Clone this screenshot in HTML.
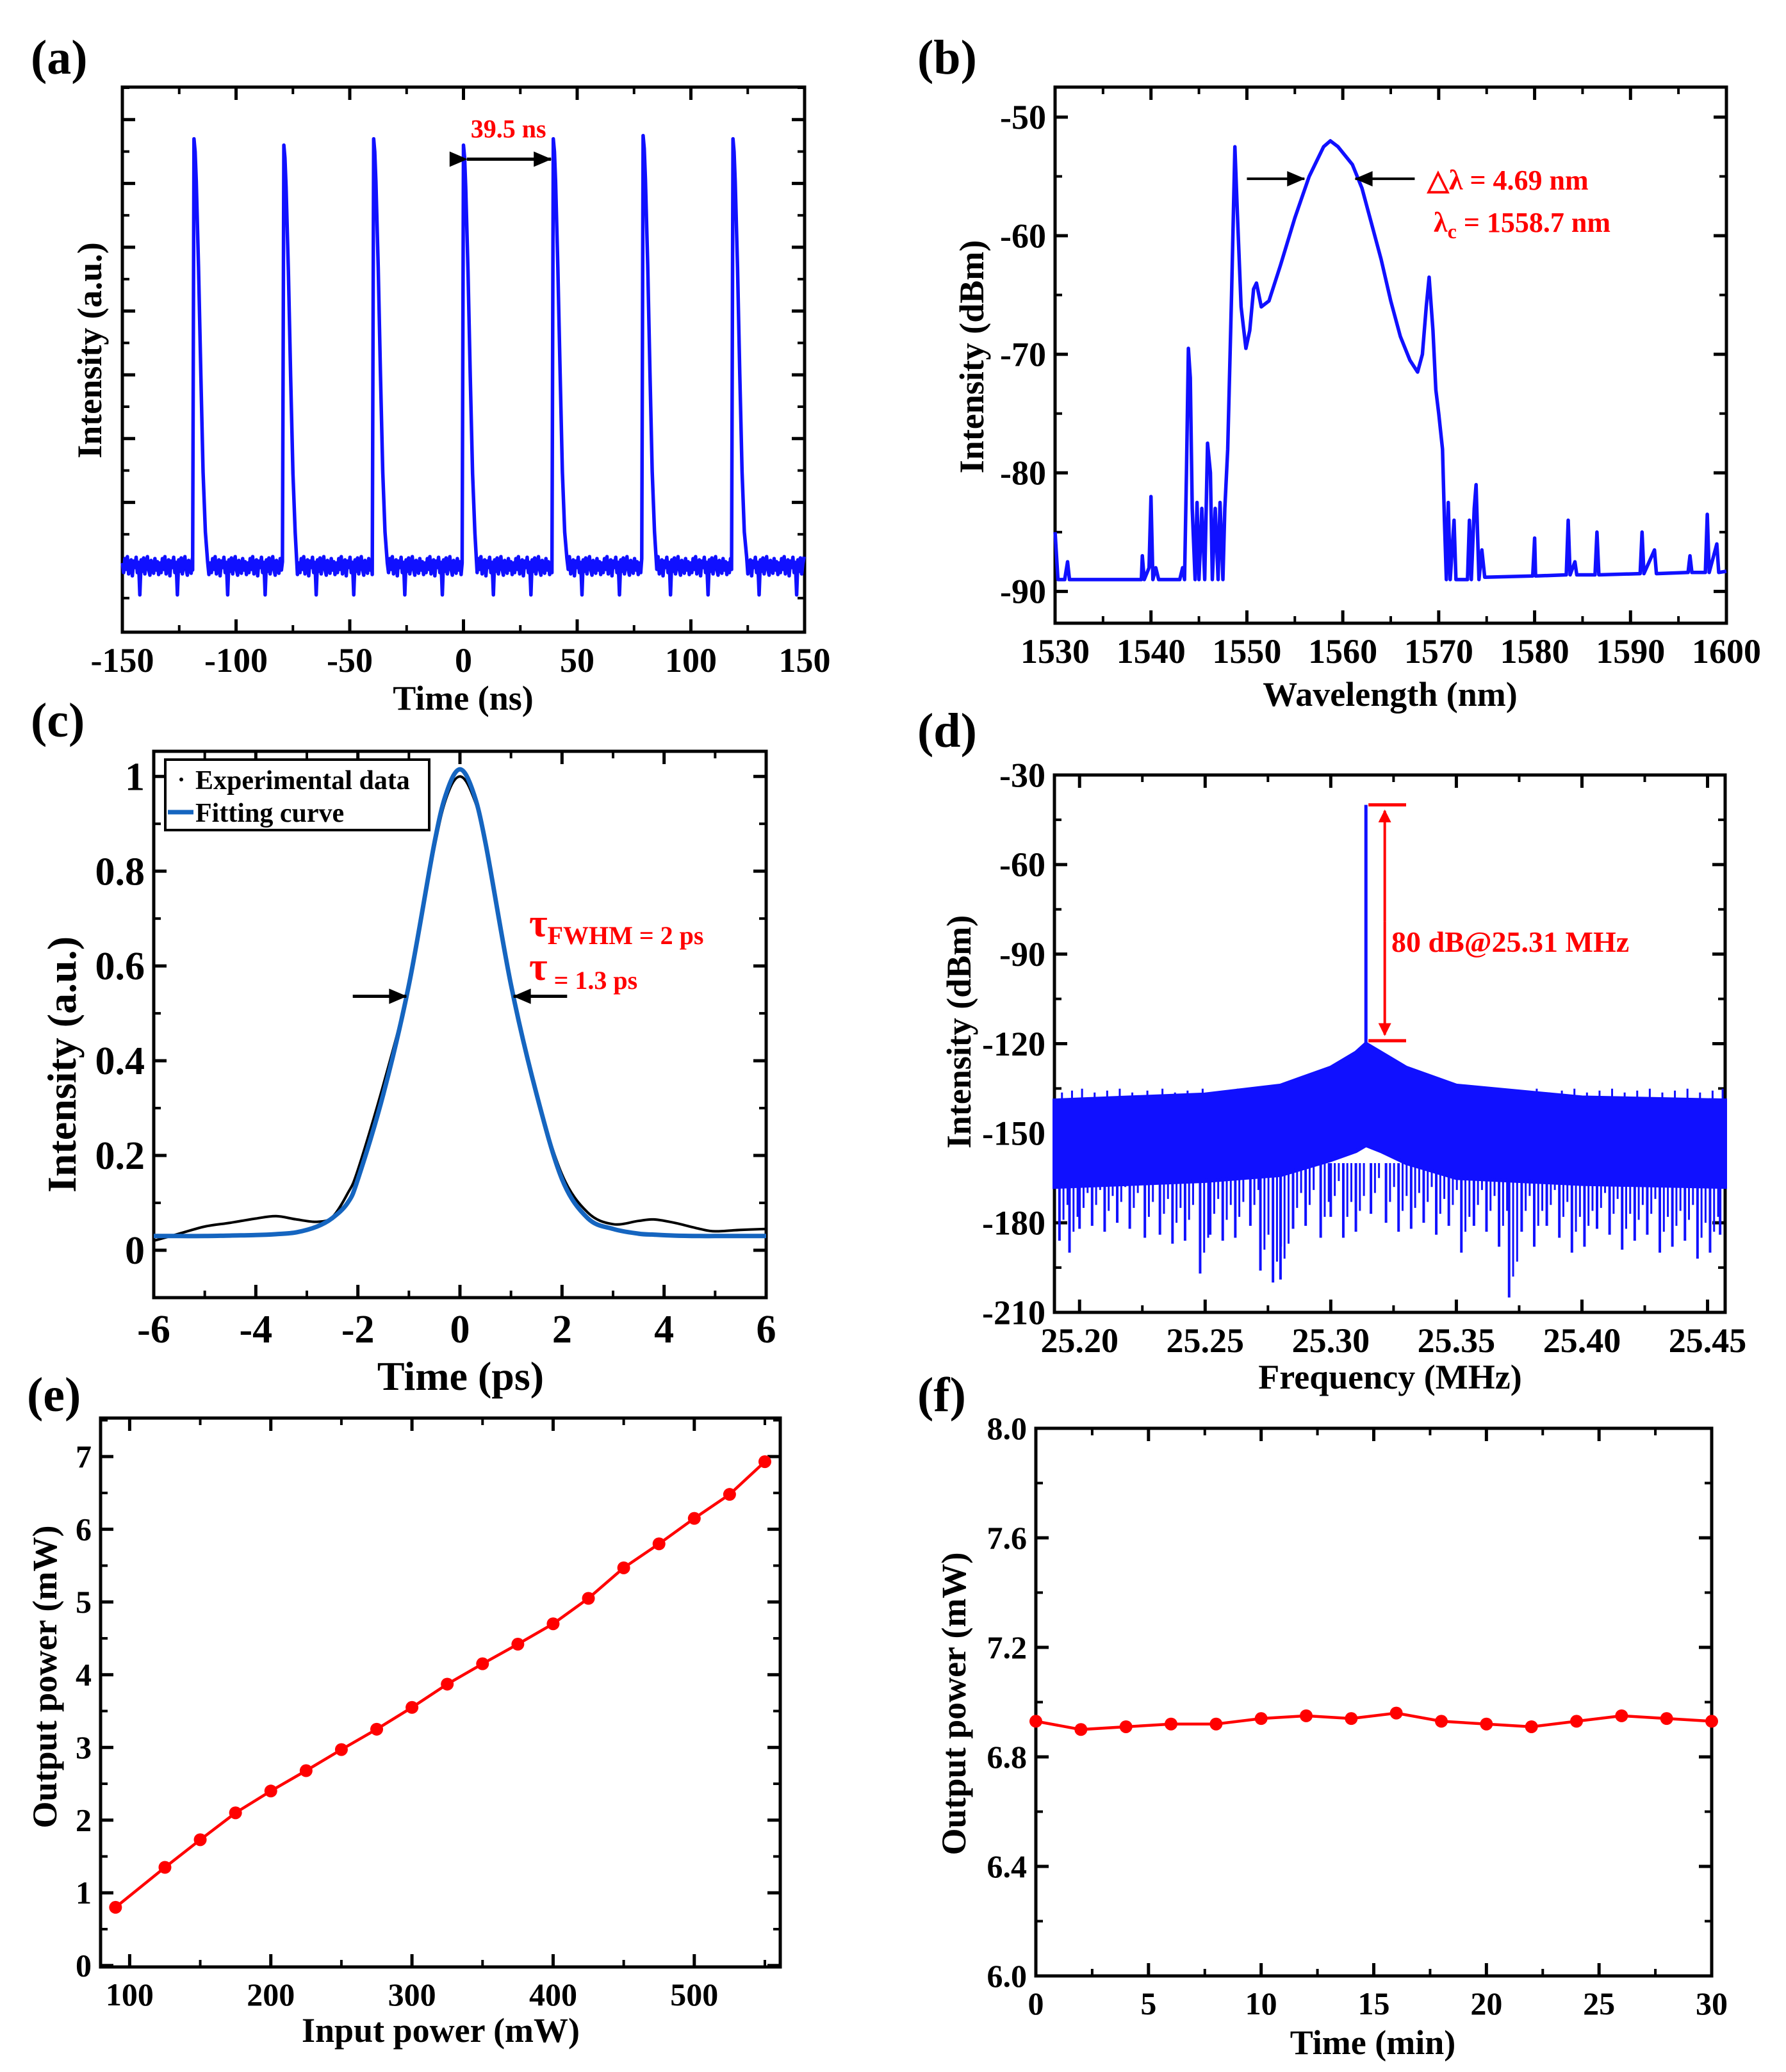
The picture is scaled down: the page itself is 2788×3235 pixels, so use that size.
<!DOCTYPE html>
<html><head><meta charset="utf-8"><style>
html,body{margin:0;padding:0;background:#fff}
svg{display:block}
text{font-family:"Liberation Serif",serif;font-weight:bold}
</style></head><body>
<svg id="fig" width="2788" height="3235" viewBox="0 0 2788 3235" xmlns="http://www.w3.org/2000/svg">
<defs>
<marker id="ahB" markerWidth="6" markerHeight="6" refX="5" refY="3" orient="auto" markerUnits="userSpaceOnUse" viewBox="0 0 6 6" style="overflow:visible"><path d="M-22,-9 L6,3 L-22,15 z" fill="#000"/></marker>
<marker id="ahR" markerWidth="5" markerHeight="5" refX="4.5" refY="2.5" orient="auto" markerUnits="strokeWidth"><path d="M0,0 L5,2.5 L0,5 z" fill="#f00"/></marker>
</defs>
</svg>
<script>
// ---------- DATA ----------
// (a) pulse train
const pulseTimes=[-118.5,-79,-39.5,0,39.5,79,118.5];
const pulseHeights=[6.7,6.6,6.7,6.6,6.7,6.75,6.7];
const pulseShapeT=[-0.6,0,0.5,1,2,3,4,5,6];
const pulseShapeV=[0,1,0.97,0.9,0.7,0.45,0.22,0.08,0];
const noiseA=[0.05,-0.1,0.12,-0.05,0.15,-0.12,0.02,0.1,-0.15,0.08,-0.02,0.14,-0.1,0.06,-0.45,0.1,-0.08,0.13,-0.12,0.04,0.15,-0.05,-0.14,0.09,0.0,-0.11,0.12,-0.06,0.07,-0.13];
// (b) optical spectrum
const specWl=[1530,1530.3,1531,1531.3,1531.5,1539,1539.1,1539.3,1539.8,1540,1540.2,1540.5,1540.8,1543,1543.3,1543.5,1543.7,1543.9,1544.1,1544.3,1544.6,1544.8,1545,1545.3,1545.6,1545.9,1546.2,1546.4,1546.7,1547,1547.2,1547.5,1547.7,1548,1548.4,1548.75,1549,1549.4,1549.9,1550.3,1550.7,1551,1551.5,1552.3,1553.5,1555,1556.5,1558,1558.7,1559.5,1561,1562,1563,1564,1565,1566,1567,1567.8,1568.3,1568.7,1569,1569.4,1569.7,1570,1570.4,1570.6,1570.8,1571,1571.2,1571.6,1571.8,1573,1573.2,1573.4,1573.7,1573.9,1574.2,1574.5,1574.8,1579.8,1580,1580.1,1583.3,1583.5,1583.7,1584.2,1584.4,1586.3,1586.5,1586.7,1591,1591.2,1591.4,1592.5,1592.7,1596,1596.2,1596.4,1597.8,1598,1598.2,1599,1599.2,1600];
const specDb=[-85,-89,-89,-87.5,-89,-89,-87,-89,-88,-82,-89,-88,-89,-89,-88,-89,-80,-69.5,-72,-83,-89,-82.5,-89,-83,-89,-77.5,-80,-89,-83,-89,-82.5,-89,-83,-78,-65,-52.5,-58,-66,-69.5,-68,-64.5,-64,-66,-65.5,-62.5,-58.5,-55,-52.5,-52,-52.5,-54,-56,-59,-62,-65.5,-68.5,-70.5,-71.5,-70,-66,-63.5,-68,-73,-75,-78,-84,-89,-82.5,-89,-84,-89,-89,-84,-89,-83,-81,-89,-86.5,-88.8,-88.7,-85.5,-88.7,-88.6,-84,-88.6,-87.5,-88.6,-88.6,-85,-88.6,-88.5,-85,-88.5,-86.5,-88.5,-88.4,-87,-88.4,-88.4,-83.5,-88.4,-86,-88.4,-88.3];
// (c) autocorrelation
const acT=[-6,-5.5,-5,-4.5,-4,-3.6,-3.2,-2.8,-2.5,-2.2,-2,-1.5,-1,-0.5,-0.25,0,0.25,0.5,1,1.5,2,2.5,3,3.5,3.8,4.2,4.7,5,5.5,6];
const acExp=[0.02,0.035,0.05,0.058,0.067,0.072,0.065,0.06,0.07,0.12,0.17,0.35,0.56,0.85,0.96,1.0,0.96,0.86,0.56,0.33,0.16,0.08,0.055,0.062,0.065,0.058,0.045,0.04,0.043,0.045];
const acFit=[0.03,0.03,0.03,0.031,0.032,0.034,0.038,0.05,0.068,0.1,0.15,0.33,0.56,0.86,0.97,1.015,0.97,0.86,0.56,0.33,0.15,0.068,0.045,0.035,0.033,0.031,0.03,0.03,0.03,0.03];
// (d) RF spectrum
const rfEnvF=[25.19,25.25,25.28,25.30,25.31,25.314,25.32,25.33,25.35,25.40,25.457];
const rfTop=[-139,-137,-134,-128,-123,-120,-123,-128,-134,-138,-139];
const rfBot=[-168,-166,-164,-159,-156,-154,-156,-160,-165,-167,-168];
const rfSpikeF=[25.192,25.196,25.2,25.205,25.21,25.215,25.22,25.226,25.232,25.237,25.242,25.248,25.252,25.257,25.262,25.268,25.272,25.277,25.28,25.285,25.29,25.296,25.3,25.305,25.31,25.316,25.322,25.327,25.332,25.337,25.342,25.347,25.352,25.357,25.362,25.367,25.371,25.376,25.381,25.386,25.391,25.396,25.401,25.406,25.411,25.416,25.421,25.426,25.431,25.436,25.441,25.446,25.451,25.455];
const rfSpikeV=[-186,-190,-182,-181,-183,-180,-182,-185,-184,-187,-186,-197,-184,-186,-185,-181,-196,-200,-199,-182,-181,-185,-178,-185,-183,-177,-180,-183,-182,-180,-184,-181,-190,-181,-183,-188,-205,-183,-188,-181,-185,-190,-188,-182,-184,-189,-186,-184,-190,-188,-186,-192,-190,-184];
// (e) output vs input power
const inPow=[90,125,150,175,200,225,250,275,300,325,350,375,400,425,450,475,500,525,550];
const outPowE=[0.8,1.35,1.73,2.1,2.4,2.68,2.97,3.25,3.55,3.87,4.15,4.42,4.7,5.05,5.47,5.8,6.15,6.48,6.93];
// (f) stability
const timeMin=[0,2,4,6,8,10,12,14,16,18,20,22,24,26,28,30];
const outPowF=[6.93,6.90,6.91,6.92,6.92,6.94,6.95,6.94,6.96,6.93,6.92,6.91,6.93,6.95,6.94,6.93];

// ---------- HELPERS ----------
const svg=document.getElementById('fig');
const NS='http://www.w3.org/2000/svg';
function mk(tag,attrs,parent){const e=document.createElementNS(NS,tag);for(const k in attrs)e.setAttribute(k,attrs[k]);(parent||svg).appendChild(e);return e;}
function txt(s,attrs,parent){const e=mk('text',attrs,parent);e.textContent=s;return e;}
function panel(p){
  const g=mk('g',{});
  
  
  p.g=g;
  p.sx=v=>p.x0+(v-p.xmin)/(p.xmax-p.xmin)*(p.x1-p.x0);
  p.sy=v=>p.y1-(v-p.ymin)/(p.ymax-p.ymin)*(p.y1-p.y0);
  const ax=mk('g',{},g);
  
  
  p.ax=ax;
  return p;
}
function drawFrame(p){
  const ax=p.ax;
  const fr=mk('rect',{x:p.x0,y:p.y0,width:p.x1-p.x0,height:p.y1-p.y0,fill:'none',stroke:'#000','stroke-width':5},ax);
  
  
  const L=20,Lm=11;
  for(const t of p.xMinor){const X=p.sx(t);if(X<p.x0-1||X>p.x1+1)continue;
    mk('line',{x1:X,x2:X,y1:p.y1,y2:p.y1-Lm,stroke:'#000','stroke-width':4},ax);
    mk('line',{x1:X,x2:X,y1:p.y0,y2:p.y0+Lm,stroke:'#000','stroke-width':4},ax);}
  for(const t of p.yMinor){const Y=p.sy(t);if(Y<p.y0-1||Y>p.y1+1)continue;
    mk('line',{y1:Y,y2:Y,x1:p.x0,x2:p.x0+Lm,stroke:'#000','stroke-width':4},ax);
    mk('line',{y1:Y,y2:Y,x1:p.x1,x2:p.x1-Lm,stroke:'#000','stroke-width':4},ax);}
  p.xTicks.forEach((t,i)=>{const X=p.sx(t);
    mk('line',{x1:X,x2:X,y1:p.y1,y2:p.y1-L,stroke:'#000','stroke-width':5},ax);
    mk('line',{x1:X,x2:X,y1:p.y0,y2:p.y0+L,stroke:'#000','stroke-width':5},ax);
    if(p.xLabels){const t2=txt(p.xLabels[i],{x:X,y:p.y1+p.xlOff,'font-size':p.fs,'text-anchor':'middle'},ax);
      
      }
  });
  p.yTicks.forEach((t,i)=>{const Y=p.sy(t);
    mk('line',{y1:Y,y2:Y,x1:p.x0,x2:p.x0+L,stroke:'#000','stroke-width':5},ax);
    mk('line',{y1:Y,y2:Y,x1:p.x1,x2:p.x1-L,stroke:'#000','stroke-width':5},ax);
    if(p.yLabels){const t2=txt(p.yLabels[i],{x:p.x0-14,y:Y+p.fs*0.34,'font-size':p.fs,'text-anchor':'end'},ax);
      
      }
  });
  const xt=txt(p.xTitle,{x:p.xtX,y:p.xtY,'font-size':p.tfs,'text-anchor':'middle'},ax);
  
  
  const yt=txt(p.yTitle,{x:0,y:0,'font-size':p.tfs,'text-anchor':'middle',transform:`translate(${p.ytX},${p.ytY}) rotate(-90)`},ax);
  
  
  const pl=txt(p.label,{x:p.lX,y:p.lY,'font-size':76},ax);
  
  
}
function range(a,b,s){const r=[];for(let v=a;v<=b+1e-9;v+=s)r.push(+v.toFixed(6));return r;}
function poly(p,xs,ys,attrs){const d=xs.map((x,i)=>`${i?'L':'M'}${p.sx(x).toFixed(1)},${p.sy(ys[i]).toFixed(1)}`).join('');return mk('path',Object.assign({d:d,fill:'none'},attrs),p.g);}
function smooth(p,xs,ys,attrs){
  const P=xs.map((x,i)=>[p.sx(x),p.sy(ys[i])]);
  let d=`M${P[0][0].toFixed(1)},${P[0][1].toFixed(1)}`;
  for(let i=0;i<P.length-1;i++){
    const p0=P[Math.max(0,i-1)],p1=P[i],p2=P[i+1],p3=P[Math.min(P.length-1,i+2)];
    const c1=[p1[0]+(p2[0]-p0[0])/6,p1[1]+(p2[1]-p0[1])/6],c2=[p2[0]-(p3[0]-p1[0])/6,p2[1]-(p3[1]-p1[1])/6];
    d+=`C${c1[0].toFixed(1)},${c1[1].toFixed(1)} ${c2[0].toFixed(1)},${c2[1].toFixed(1)} ${p2[0].toFixed(1)},${p2[1].toFixed(1)}`;
  }
  return mk('path',Object.assign({d:d,fill:'none'},attrs),p.g);
}

// ---------- (a) ----------
const A=panel({name:'panel-a-pulse-train',x0:191,x1:1256,y0:136,y1:987,xmin:-150,xmax:150,ymin:-1.034,ymax:7.51,
  xTicks:range(-150,150,50),xLabels:['-150','-100','-50','0','50','100','150'],xMinor:range(-150,150,25),
  yTicks:range(0,7,1),yLabels:null,yMinor:range(-0.5,7.5,0.5),fs:54,xlOff:62,tfs:54,
  xTitle:'Time (ns)',xtX:723,xtY:1108,yTitle:'Intensity (a.u.)',ytX:158,ytY:547,label:'(a)',lX:48,lY:115});
(function(){
  const xs=[],ys=[];let k=0;
  const events=[];
  pulseTimes.forEach((t0,i)=>events.push([t0,pulseHeights[i]]));
  let t=-150;
  for(const [t0,h] of events){
    while(t<t0+pulseShapeT[0]){xs.push(t);ys.push(noiseA[k++%noiseA.length]);t+=0.55;}
    pulseShapeT.forEach((dt,j)=>{xs.push(t0+dt);ys.push(pulseShapeV[j]*h+(j==0||j==pulseShapeT.length-1?noiseA[k++%noiseA.length]:0));});
    t=t0+pulseShapeT[pulseShapeT.length-1]+0.55;
  }
  while(t<=150){xs.push(t);ys.push(noiseA[k++%noiseA.length]);t+=0.55;}
  const l=poly(A,xs,ys,{stroke:'#1010ff','stroke-width':5.5,'stroke-linejoin':'round'});
  
  
  const ar=mk('line',{x1:A.sx(1.5),x2:A.sx(38.5),y1:A.sy(6.38),y2:A.sy(6.38),stroke:'#000','stroke-width':5,'marker-end':'url(#ahB)','marker-start':'url(#ahB)'},A.g);
  
  
  const at=txt('39.5 ns',{x:A.sx(19.75),y:A.sy(6.72),'font-size':40,fill:'#f00','text-anchor':'middle'},A.g);
  
  
})();
drawFrame(A);

// ---------- (b) ----------
const B=panel({name:'panel-b-optical-spectrum',x0:1647,x1:2695,y0:136,y1:973,xmin:1530,xmax:1600,ymin:-92.68,ymax:-47.47,
  xTicks:range(1530,1600,10),xLabels:['1530','1540','1550','1560','1570','1580','1590','1600'],xMinor:range(1530,1600,5),
  yTicks:[-90,-80,-70,-60,-50],yLabels:['-90','-80','-70','-60','-50'],yMinor:range(-90,-50,5),fs:54,xlOff:62,tfs:54,
  xTitle:'Wavelength (nm)',xtX:2170,xtY:1102,yTitle:'Intensity (dBm)',ytX:1535,ytY:557,label:'(b)',lX:1432,lY:115});
(function(){
  const l=poly(B,specWl,specDb,{stroke:'#1010ff','stroke-width':5.5,'stroke-linejoin':'round'});
  
  
  const a1=mk('line',{x1:B.sx(1550),x2:B.sx(1556),y1:B.sy(-55.2),y2:B.sy(-55.2),stroke:'#000','stroke-width':4,'marker-end':'url(#ahB)'},B.g);
  
  
  const a2=mk('line',{x1:B.sx(1567.5),x2:B.sx(1561.3),y1:B.sy(-55.2),y2:B.sy(-55.2),stroke:'#000','stroke-width':4,'marker-end':'url(#ahB)'},B.g);
  
  
  const t1=txt('△λ = 4.69 nm',{x:2228,y:296,'font-size':44,fill:'#f00'},B.g);
  
  
  const t2=mk('text',{x:2238,y:362,'font-size':44,fill:'#f00'},B.g);
  t2.innerHTML='λ<tspan font-size="32" dy="10">c</tspan><tspan dy="-10"> = 1558.7 nm</tspan>';
  
  
})();
drawFrame(B);

// ---------- (c) ----------
const C=panel({name:'panel-c-autocorrelation',x0:240,x1:1196,y0:1173,y1:2026,xmin:-6,xmax:6,ymin:-0.1,ymax:1.053,
  xTicks:range(-6,6,2),xLabels:['-6','-4','-2','0','2','4','6'],xMinor:range(-6,6,1),
  yTicks:range(0,1,0.2),yLabels:['0','0.2','0.4','0.6','0.8','1'],yMinor:range(0,1,0.1),fs:62,xlOff:70,tfs:64,
  xTitle:'Time (ps)',xtX:719,xtY:2170,yTitle:'Intensity (a.u.)',ytX:118,ytY:1662,label:'(c)',lX:48,lY:1150});
(function(){
  const e=smooth(C,acT,acExp,{stroke:'#000','stroke-width':4,'stroke-linejoin':'round'});
  
  
  const f=smooth(C,acT,acFit,{stroke:'#1565c0','stroke-width':7,'stroke-linejoin':'round'});
  
  
  const lg=mk('g',{},C.g);
  
  
  mk('rect',{x:258,y:1186,width:412,height:110,fill:'#fff',stroke:'#000','stroke-width':4},lg);
  mk('circle',{cx:283,cy:1217,r:3,fill:'#000'},lg);
  const l1=txt('Experimental data',{x:305,y:1232,'font-size':42},lg);
  
  
  mk('line',{x1:262,x2:302,y1:1268,y2:1268,stroke:'#1565c0','stroke-width':7},lg);
  const l2=txt('Fitting curve',{x:305,y:1283,'font-size':42},lg);
  
  
  const a1=mk('line',{x1:C.sx(-2.1),x2:C.sx(-1.05),y1:C.sy(0.536),y2:C.sy(0.536),stroke:'#000','stroke-width':5,'marker-end':'url(#ahB)'},C.g);
  
  
  const a2=mk('line',{x1:C.sx(2.1),x2:C.sx(1.05),y1:C.sy(0.536),y2:C.sy(0.536),stroke:'#000','stroke-width':5,'marker-end':'url(#ahB)'},C.g);
  
  
  const t1=mk('text',{x:826,y:1462,'font-size':62,fill:'#f00'},C.g);
  t1.innerHTML='τ<tspan font-size="40" dy="12">FWHM = 2 ps</tspan>';
  
  
  const t2=mk('text',{x:826,y:1530,'font-size':62,fill:'#f00'},C.g);
  t2.innerHTML='τ<tspan font-size="40" dy="14"> = 1.3 ps</tspan>';
  
  
})();
drawFrame(C);

// ---------- (d) ----------
const D=panel({name:'panel-d-rf-spectrum',x0:1646,x1:2693,y0:1210,y1:2049,xmin:25.19,xmax:25.457,ymin:-210,ymax:-30,
  xTicks:range(25.2,25.45,0.05),xLabels:['25.20','25.25','25.30','25.35','25.40','25.45'],xMinor:range(25.2,25.45,0.025),
  yTicks:range(-210,-30,30),yLabels:['-210','-180','-150','-120','-90','-60','-30'],yMinor:range(-210,-30,15),fs:54,xlOff:62,tfs:54,
  xTitle:'Frequency (MHz)',xtX:2170,xtY:2168,yTitle:'Intensity (dBm)',ytX:1515,ytY:1611,label:'(d)',lX:1432,lY:1166});
(function(){
  const g=mk('g',{},D.g);
  
  
  let d='';
  rfEnvF.forEach((f,i)=>{d+=`${i?'L':'M'}${D.sx(f).toFixed(1)},${D.sy(rfTop[i]).toFixed(1)}`;});
  for(let i=rfEnvF.length-1;i>=0;i--)d+=`L${D.sx(rfEnvF[i]).toFixed(1)},${D.sy(rfBot[i]).toFixed(1)}`;
  mk('path',{d:d+'Z',fill:'#1010ff',stroke:'#1010ff','stroke-width':6},g);
  const inside=f=>f<=D.xmax-0.0008;
  rfSpikeF.forEach((f,i)=>{
    if(inside(f))mk('line',{x1:D.sx(f),x2:D.sx(f),y1:D.sy(-160),y2:D.sy(rfSpikeV[i]),stroke:'#1010ff','stroke-width':4},g);
    if(inside(f+0.0016))mk('line',{x1:D.sx(f+0.0016),x2:D.sx(f+0.0016),y1:D.sy(-160),y2:D.sy(rfSpikeV[i]+7),stroke:'#1010ff','stroke-width':3},g);
    if(inside(f+0.0032))mk('line',{x1:D.sx(f+0.0032),x2:D.sx(f+0.0032),y1:D.sy(-160),y2:D.sy(rfSpikeV[i]+12),stroke:'#1010ff','stroke-width':3},g);
  });
  rfSpikeF.forEach((f,i)=>{
    if(!inside(f+0.001))return;
    const yTop=D.sy(-137)-((i%3)+1)*3;
    mk('line',{x1:D.sx(f+0.001),x2:D.sx(f+0.001),y1:D.sy(-150),y2:yTop,stroke:'#1010ff','stroke-width':3},g);
  });
  const c=mk('line',{x1:D.sx(25.314),x2:D.sx(25.314),y1:D.sy(-40),y2:D.sy(-122),stroke:'#1010ff','stroke-width':5},D.g);
  
  
  const ag=mk('g',{},D.g);
  
  
  mk('line',{x1:D.sx(25.315),x2:D.sx(25.33),y1:D.sy(-40),y2:D.sy(-40),stroke:'#f00','stroke-width':5},ag);
  mk('line',{x1:D.sx(25.315),x2:D.sx(25.33),y1:D.sy(-119),y2:D.sy(-119),stroke:'#f00','stroke-width':5},ag);
  mk('line',{x1:D.sx(25.3215),x2:D.sx(25.3215),y1:D.sy(-79),y2:D.sy(-42),stroke:'#f00','stroke-width':4,'marker-end':'url(#ahR)'},ag);
  mk('line',{x1:D.sx(25.3215),x2:D.sx(25.3215),y1:D.sy(-79),y2:D.sy(-117),stroke:'#f00','stroke-width':4,'marker-end':'url(#ahR)'},ag);
  const t=txt('80 dB@25.31 MHz',{x:2172,y:1486,'font-size':46,fill:'#f00'},D.g);
  
  
})();
drawFrame(D);

// ---------- (e) ----------
const E=panel({name:'panel-e-output-vs-input',x0:157,x1:1218,y0:2214,y1:3071,xmin:79.4,xmax:560.9,ymin:-0.02,ymax:7.53,
  xTicks:range(100,500,100),xLabels:['100','200','300','400','500'],xMinor:range(100,550,50),
  yTicks:range(0,7,1),yLabels:['0','1','2','3','4','5','6','7'],yMinor:range(0.5,7.5,0.5),fs:50,xlOff:60,tfs:54,
  xTitle:'Input power (mW)',xtX:688,xtY:3188,yTitle:'Output power (mW)',ytX:88,ytY:2618,label:'(e)',lX:42,lY:2203});
(function(){
  const l=poly(E,inPow,outPowE,{stroke:'#f00','stroke-width':4.5});
  
  
  inPow.forEach((x,i)=>{const c=mk('circle',{cx:E.sx(x),cy:E.sy(outPowE[i]),r:10,fill:'#f00'},E.g);
    
    });
})();
drawFrame(E);

// ---------- (f) ----------
const F=panel({name:'panel-f-stability',x0:1617,x1:2672,y0:2230,y1:3085,xmin:0,xmax:30,ymin:6.0,ymax:8.0,
  xTicks:range(0,30,5),xLabels:['0','5','10','15','20','25','30'],xMinor:range(0,30,2.5),
  yTicks:range(6,8,0.4),yLabels:['6.0','6.4','6.8','7.2','7.6','8.0'],yMinor:range(6,8,0.2),fs:50,xlOff:60,tfs:54,
  xTitle:'Time (min)',xtX:2143,xtY:3207,yTitle:'Output power (mW)',ytX:1507,ytY:2660,label:'(f)',lX:1432,lY:2203});
(function(){
  const l=poly(F,timeMin,outPowF,{stroke:'#f00','stroke-width':4.5});
  
  
  timeMin.forEach((x,i)=>{const c=mk('circle',{cx:F.sx(x),cy:F.sy(outPowF[i]),r:10,fill:'#f00'},F.g);
    
    });
})();
drawFrame(F);
</script>
</body></html>
